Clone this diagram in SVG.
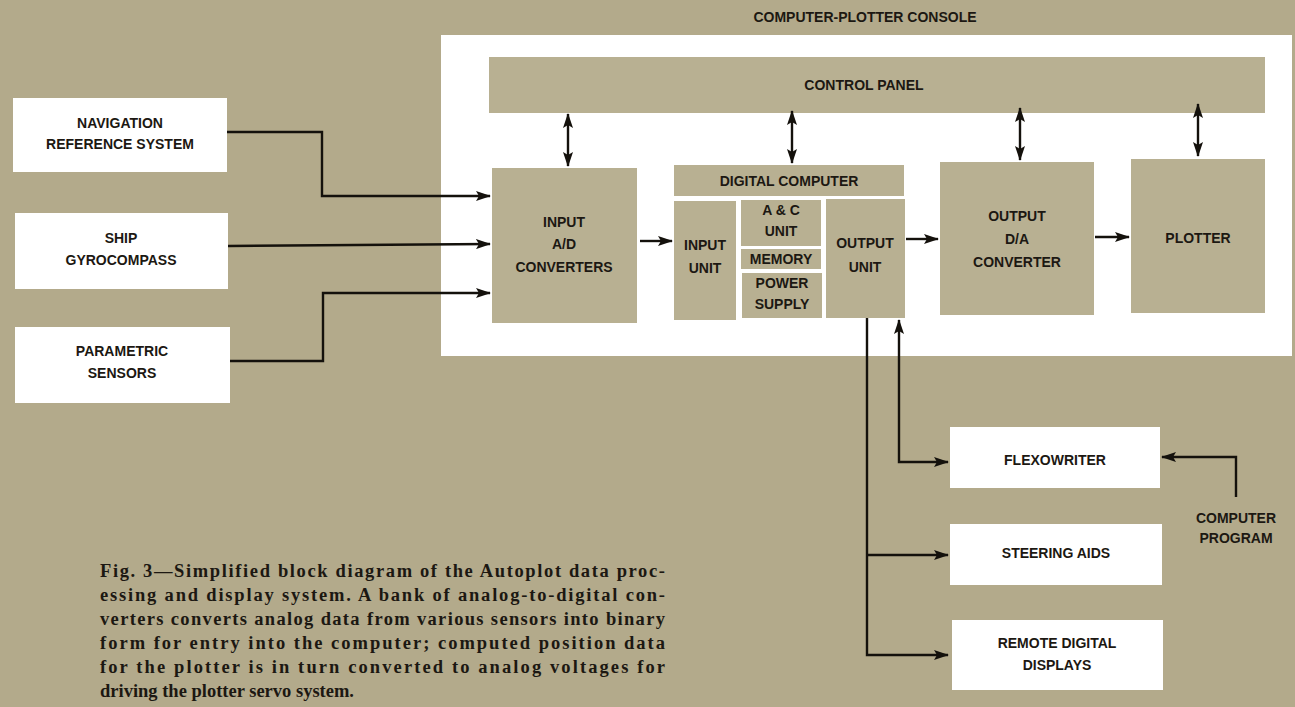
<svg xmlns="http://www.w3.org/2000/svg" width="1295" height="707" viewBox="0 0 1295 707">
<defs>
<style>
.bg{fill:#b3aa8b}
.wbox{fill:#ffffff}
.tbox{fill:#b8b092}
.lbl{font-family:"Liberation Sans",Arial,sans-serif;font-weight:bold;font-size:14px;fill:#1c1812;text-anchor:middle}
.cap{font-family:"Liberation Serif","Times New Roman",serif;font-weight:bold;font-size:18.5px;fill:#1c1812}
.ln{fill:none;stroke:#14110c;stroke-width:2.4}
</style>
<marker id="ah" viewBox="0 0 15 10" refX="14" refY="5" markerWidth="15" markerHeight="10" markerUnits="userSpaceOnUse" orient="auto-start-reverse">
<path d="M0,0 L15,5 L0,10 L3,5 Z" fill="#14110c"/>
</marker>
</defs>
<rect class="bg" x="0" y="0" width="1295" height="707"/>
<text class="lbl" x="865" y="22">COMPUTER-PLOTTER CONSOLE</text>
<rect class="wbox" x="441" y="35" width="851" height="321"/>

<g id="control-panel"><rect class="tbox" x="489" y="57" width="776" height="56"/><text class="lbl" x="864" y="90">CONTROL PANEL</text></g>
<g id="input-ad"><rect class="tbox" x="492" y="168" width="145" height="155"/><text class="lbl" x="564" y="227">INPUT</text><text class="lbl" x="564" y="249">A/D</text><text class="lbl" x="564" y="272">CONVERTERS</text></g>
<g id="digital-computer"><rect class="tbox" x="674" y="165" width="230" height="31"/><text class="lbl" x="789" y="186">DIGITAL COMPUTER</text></g>
<g id="input-unit"><rect class="tbox" x="674" y="201" width="62" height="119"/><text class="lbl" x="705" y="250">INPUT</text><text class="lbl" x="705" y="273">UNIT</text></g>
<g id="ac-unit"><rect class="tbox" x="741" y="200" width="80" height="46"/><text class="lbl" x="781" y="215">A &amp; C</text><text class="lbl" x="781" y="236">UNIT</text></g>
<g id="memory"><rect class="tbox" x="741" y="249" width="80" height="20"/><text class="lbl" x="781" y="264">MEMORY</text></g>
<g id="power-supply"><rect class="tbox" x="742" y="273" width="80" height="45"/><text class="lbl" x="782" y="288">POWER</text><text class="lbl" x="782" y="309">SUPPLY</text></g>
<g id="output-unit"><rect class="tbox" x="826" y="199" width="79" height="119"/><text class="lbl" x="865" y="248">OUTPUT</text><text class="lbl" x="865" y="272">UNIT</text></g>
<g id="output-da"><rect class="tbox" x="940" y="162" width="154" height="153"/><text class="lbl" x="1017" y="221">OUTPUT</text><text class="lbl" x="1017" y="244">D/A</text><text class="lbl" x="1017" y="267">CONVERTER</text></g>
<g id="plotter"><rect class="tbox" x="1131" y="159" width="134" height="154"/><text class="lbl" x="1198" y="243">PLOTTER</text></g>

<g id="nav-ref"><rect class="wbox" x="13" y="98" width="214" height="74"/><text class="lbl" x="120" y="128">NAVIGATION</text><text class="lbl" x="120" y="149">REFERENCE SYSTEM</text></g>
<g id="ship-gyro"><rect class="wbox" x="15" y="213" width="213" height="76"/><text class="lbl" x="121" y="243">SHIP</text><text class="lbl" x="121" y="265">GYROCOMPASS</text></g>
<g id="param-sensors"><rect class="wbox" x="15" y="327" width="215" height="76"/><text class="lbl" x="122" y="356">PARAMETRIC</text><text class="lbl" x="122" y="378">SENSORS</text></g>

<g id="flexowriter"><rect class="wbox" x="950" y="427" width="210" height="61"/><text class="lbl" x="1055" y="465">FLEXOWRITER</text></g>
<g id="steering-aids"><rect class="wbox" x="950" y="524" width="212" height="61"/><text class="lbl" x="1056" y="558">STEERING AIDS</text></g>
<g id="remote-displays"><rect class="wbox" x="952" y="620" width="211" height="70"/><text class="lbl" x="1057" y="648">REMOTE DIGITAL</text><text class="lbl" x="1057" y="670">DISPLAYS</text></g>
<g id="computer-program"><text class="lbl" x="1236" y="523">COMPUTER</text><text class="lbl" x="1236" y="543">PROGRAM</text></g>

<g id="connectors">
<path class="ln" d="M227,132 H322 V196 H490" marker-end="url(#ah)"/>
<path class="ln" d="M228,246 L490,244" marker-end="url(#ah)"/>
<path class="ln" d="M230,361 H323 V293 H490" marker-end="url(#ah)"/>
<path class="ln" d="M568,114 V166" marker-start="url(#ah)" marker-end="url(#ah)"/>
<path class="ln" d="M792,111 V163" marker-start="url(#ah)" marker-end="url(#ah)"/>
<path class="ln" d="M1020,108 V160" marker-start="url(#ah)" marker-end="url(#ah)"/>
<path class="ln" d="M1198,104 V156" marker-start="url(#ah)" marker-end="url(#ah)"/>
<path class="ln" d="M640,241 H672" marker-end="url(#ah)"/>
<path class="ln" d="M906,239 H938" marker-end="url(#ah)"/>
<path class="ln" d="M1095,237 H1129" marker-end="url(#ah)"/>
<path class="ln" d="M867,318 V655 H948" marker-end="url(#ah)"/>
<path class="ln" d="M867,555 H948" marker-end="url(#ah)"/>
<path class="ln" d="M948,462 H899 V320" marker-start="url(#ah)" marker-end="url(#ah)"/>
<path class="ln" d="M1236,497 V457 H1162" marker-end="url(#ah)"/>
</g>

<g id="caption">
<text class="cap" x="100" y="577" textLength="565" lengthAdjust="spacing">Fig. 3—Simplified block diagram of the Autoplot data proc-</text>
<text class="cap" x="100" y="601" textLength="565" lengthAdjust="spacing">essing and display system. A bank of analog-to-digital con-</text>
<text class="cap" x="100" y="625" textLength="565" lengthAdjust="spacing">verters converts analog data from various sensors into binary</text>
<text class="cap" x="100" y="649" textLength="565" lengthAdjust="spacing">form for entry into the computer; computed position data</text>
<text class="cap" x="100" y="673" textLength="565" lengthAdjust="spacing">for the plotter is in turn converted to analog voltages for</text>
<text class="cap" x="100" y="697">driving the plotter servo system.</text>
</g>
</svg>
